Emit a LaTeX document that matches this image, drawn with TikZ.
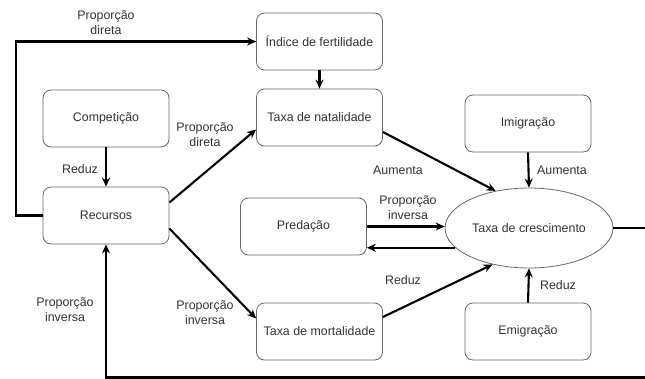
\documentclass[tikz,border=0pt]{standalone}
\usepackage{fontspec}
\setmainfont{Liberation Sans}
\usetikzlibrary{arrows.meta,shapes.geometric}
\definecolor{txtgray}{HTML}{333333}
\definecolor{boxgray}{HTML}{666666}
\begin{document}
\begin{tikzpicture}[x=1pt,y=-1pt,
    every node/.style={font=\fontsize{12.4}{15}\selectfont,text=txtgray},
    box/.style={draw=boxgray,line width=0.8pt,rounded corners=8pt,minimum width=126pt,minimum height=57pt,inner sep=2pt},
    rate/.style={draw=boxgray,line width=0.8pt,ellipse,minimum width=168pt,minimum height=80pt,inner sep=0pt},
    lbl/.style={align=center,inner sep=0pt},
    link/.style={line width=2.1pt,-{Stealth[length=9pt,width=8pt]}}]
      \useasboundingbox (0,0) rectangle (645,378);
      % boxes
      \node[box] (indice) at (319.5,41.5) {Índice de fertilidade};
      \node[box] (natal) at (319.5,117.5) {Taxa de natalidade};
      \node[box] (compet) at (106,118.5) {Competição};
      \node[box] (recursos) at (106,215.5) {Recursos};
      \node[box] (predacao) at (303.5,226.5) {Predação};
      \node[box] (mortal) at (319.5,331.5) {Taxa de mortalidade};
      \node[box] (imigr) at (528,123.5) {Imigração};
      \node[box] (emigr) at (528,331.5) {Emigração};
      \node[rate] (cresc) at (529,228) {Taxa de crescimento};
      \coordinate (fbR) at (648,377.5);
      % connectors
      \draw[link] (recursos.west) -- ++(-27,0) |- (indice.west);
      \draw[link] (compet.south) -- (recursos.north);
      \draw[link] (indice.south) -- (natal.north);
      \draw[link] ([yshift=13pt]recursos.east) -- ([yshift=-12pt]natal.west);
      \draw[link] ([yshift=-13pt]recursos.east) -- ([yshift=13pt]mortal.west);
      \draw[link] ([yshift=-14.5pt]natal.east) -- (cresc.132);
      \draw[link] ([yshift=14.5pt]mortal.east) -- (cresc.225);
      \draw[link] (imigr.south) -- (cresc.north);
      \draw[link] (emigr.north) -- (cresc.south);
      \draw[link] (predacao.east) -- (predacao.east -| cresc.west);
      \draw[link] (cresc.195) -- (cresc.195 -| predacao.east);
      \draw[link] (cresc.east) -- (cresc.east -| fbR) -- (fbR) -| (recursos.south);
      % labels
      \node[lbl] (l1) at (106,23) {Proporção\\direta};
      \node[lbl] (l2) at (205,135) {Proporção\\direta};
      \node[lbl] (l3) at (80,169) {Reduz};
      \node[lbl] (l4) at (398,170) {Aumenta};
      \node[lbl] (l5) at (562,170) {Aumenta};
      \node[lbl] (l6) at (408,208) {Proporção\\inversa};
      \node[lbl] (l7) at (403,280) {Reduz};
      \node[lbl] (l8) at (558,285) {Reduz};
      \node[lbl] (l9) at (65,310) {Proporção\\inversa};
      \node[lbl] (l10) at (205,313) {Proporção\\inversa};
\end{tikzpicture}
\end{document}
